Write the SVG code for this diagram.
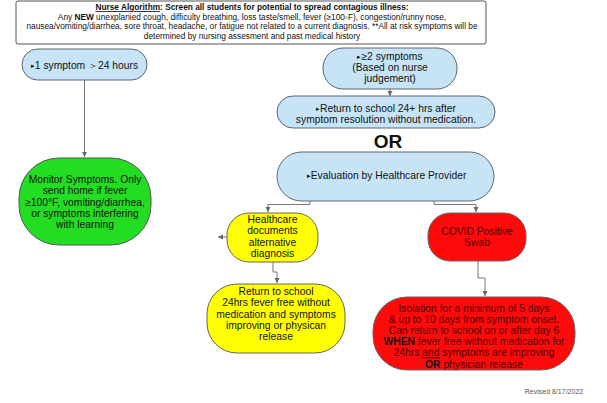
<svg xmlns="http://www.w3.org/2000/svg" width="607" height="403" viewBox="0 0 607 403">
<style>
text{font-family:"Liberation Sans",Arial,sans-serif;fill:#111;text-anchor:middle}
.h{font-size:8.3px}
.n{font-size:10.3px}
.b{font-size:7px}
.blue{fill:#c6e4f6;stroke:#5d6670;stroke-width:1}
.green{fill:#22dd22;stroke:#555;stroke-width:1}
.yellow{fill:#ffff00;stroke:#666;stroke-width:1}
.red{fill:#ff0a0a;stroke:#666;stroke-width:1}
.rt{fill:#4a0000}
.c{fill:none;stroke:#777;stroke-width:1}
</style>
<defs>
<marker id="ah" markerWidth="6" markerHeight="6" refX="5" refY="3" orient="auto" markerUnits="userSpaceOnUse">
<path d="M0,0.5 L5,3 L0,5.5 Z" fill="#666"/>
</marker>
</defs>
<rect width="607" height="403" fill="#fff"/>
<g id="header">
<rect x="16" y="1" width="470" height="43" rx="2" fill="#fff" stroke="#555" stroke-width="1"/>
<text class="h" x="252" y="10" font-weight="bold"><tspan text-decoration="underline">Nurse Algorithm</tspan>: Screen all students for potential to spread contagious illness:</text>
<text class="h" x="252" y="19.5">Any <tspan font-weight="bold">NEW</tspan> unexplanied cough, difficulty breathing, loss taste/smell, fever (≥100◦F), congestion/runny nose,</text>
<text class="h" x="252" y="29">nausea/vomiting/diarrhea, sore throat, headache, or fatigue not related to a current diagnosis.  **All at risk symptoms will be</text>
<text class="h" x="252" y="38.5">determined by nursing assesment and past medical history</text>
</g>
<g id="connectors">
<path class="c" d="M84.5,80 V157" marker-end="url(#ah)"/>
<path class="c" d="M390,89 V96" marker-end="url(#ah)"/>
<path class="c" d="M310,201 V204.5 H268 V212" marker-end="url(#ah)"/>
<path class="c" d="M434,201 V204.5 H476 V212" marker-end="url(#ah)"/>
<path class="c" d="M227,237 H218" marker-end="url(#ah)"/>
<path class="c" d="M273,262 V272 H277 V283" marker-end="url(#ah)"/>
<path class="c" d="M478,261 V278 H485 V296" marker-end="url(#ah)"/>
</g>
<g id="one-symptom">
<rect class="blue" x="22" y="49" width="125" height="31" rx="15.5"/>
<text class="n" x="84.5" y="68.5" font-size="10.5"><tspan class="b" dy="-1">▸</tspan><tspan dy="1">1 symptom  ＞24 hours</tspan></text>
</g>
<g id="monitor">
<rect class="green" x="19" y="158" width="132" height="87" rx="40"/>
<text class="n" x="85" y="183">Monitor Symptoms. Only</text>
<text class="n" x="85" y="194.3">send home if fever</text>
<text class="n" x="85" y="205.6">≥100°F, vomiting/diarrhea,</text>
<text class="n" x="85" y="216.9">or symptoms interfering</text>
<text class="n" x="85" y="228.2">with learning</text>
</g>
<g id="two-symptoms">
<rect class="blue" x="323" y="48" width="134" height="41" rx="20"/>
<text class="n" x="390" y="59.5"><tspan class="b" dy="-1">▸</tspan><tspan dy="1">≥2 symptoms</tspan></text>
<text class="n" x="390" y="70.5">(Based on nurse</text>
<text class="n" x="390" y="81.5">judgement)</text>
</g>
<g id="return-24">
<rect class="blue" x="277" y="96" width="218" height="32" rx="16"/>
<text class="n" x="386" y="111.5"><tspan class="b" dy="-1">▸</tspan><tspan dy="1">Return to school 24+ hrs after</tspan></text>
<text class="n" x="386" y="122.5">symptom resolution without medication.</text>
</g>
<g id="or">
<text x="388" y="148" font-size="19" font-weight="bold" fill="#222">OR</text>
</g>
<g id="evaluation">
<rect class="blue" x="277" y="152" width="217" height="49" rx="24.5"/>
<text class="n" x="386.5" y="178.5"><tspan class="b" dy="-1">▸</tspan><tspan dy="1">Evaluation by Healthcare Provider</tspan></text>
</g>
<g id="alt-diagnosis">
<rect class="yellow" x="227" y="213" width="91" height="49" rx="22"/>
<text class="n" x="272.5" y="223">Healthcare</text>
<text class="n" x="272.5" y="234.3">documents</text>
<text class="n" x="272.5" y="245.6">alternative</text>
<text class="n" x="272.5" y="256.9">diagnosis</text>
</g>
<g id="return-alt">
<rect class="yellow" x="207" y="284" width="138" height="69" rx="30"/>
<text class="n" x="276" y="295">Return to school</text>
<text class="n" x="276" y="306.3">24hrs fever free without</text>
<text class="n" x="276" y="317.6">medication and symptoms</text>
<text class="n" x="276" y="328.9">improving or physican</text>
<text class="n" x="276" y="340.2">release</text>
</g>
<g id="covid-positive">
<rect class="red" x="428" y="213" width="98" height="48" rx="22"/>
<text class="n rt" x="477" y="234.5">COVID Positive</text>
<text class="n rt" x="477" y="246">Swab</text>
</g>
<g id="isolation">
<rect class="red" x="373" y="297" width="202" height="73" rx="34"/>
<text class="n rt" x="474" y="311.5">Isolation for a minimum of 5 days</text>
<text class="n rt" x="474" y="322.7">&amp; up to 10 days from symptom onset.</text>
<text class="n rt" x="474" y="333.9">Can return to school on or after day 6</text>
<text class="n rt" x="474" y="345.1"><tspan font-weight="bold" fill="#111">WHEN</tspan> fever free without medication for</text>
<text class="n rt" x="474" y="356.3">24hrs <tspan text-decoration="underline">and</tspan> symptoms are improving</text>
<text class="n rt" x="474" y="367.5"><tspan font-weight="bold" fill="#111">OR</tspan> physician release</text>
</g>
<g id="revised">
<text x="554" y="393.5" font-size="7" style="fill:#555">Revised 8/17/2022</text>
</g>
</svg>
